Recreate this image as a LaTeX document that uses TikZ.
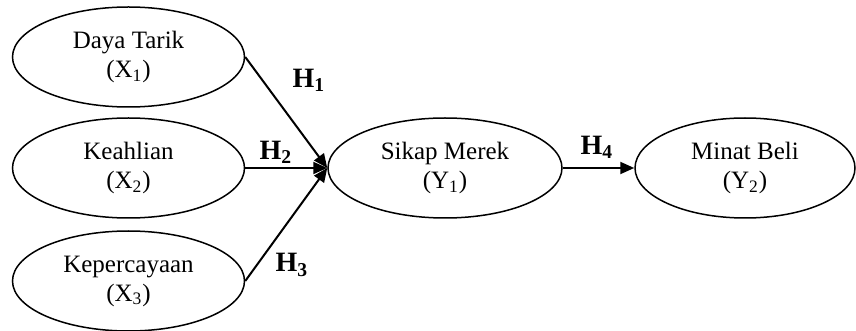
\documentclass[tikz,border=0pt]{standalone}
\usepackage{fontspec}
\setmainfont{Liberation Serif}
\usetikzlibrary{shapes.geometric,arrows.meta}
\tikzset{
  var/.style={draw,ellipse,line width=0.75pt,minimum width=116pt,minimum height=50pt,
    inner sep=0pt,align=center,font=\fontsize{12.5}{14.5}\selectfont},
  path/.style={line width=1pt,-{Triangle[length=7pt,width=6pt]}},
  hyp/.style={inner sep=0.75pt,font=\fontsize{14}{16}\selectfont\bfseries}
}
\begin{document}
\begin{tikzpicture}[x=0.5pt,y=0.5pt,yscale=-1,xscale=1]
\useasboundingbox (0,0) rectangle (856,331);

%Shape: Ellipse [X1]
\node [var] (x1) at (128.5,57) {Daya Tarik\\(X\textsubscript{1})};
%Shape: Ellipse [X2]
\node [var] (x2) at (128.5,168) {Keahlian\\(X\textsubscript{2})};
%Shape: Ellipse [X3]
\node [var] (x3) at (128.5,281) {Kepercayaan\\(X\textsubscript{3})};
%Shape: Ellipse [Y1]
\node [var,minimum width=117pt] (y1) at (445,168) {Sikap Merek\\(Y\textsubscript{1})};
%Shape: Ellipse [Y2]
\node [var,minimum width=110pt] (y2) at (745,168) {Minat Beli\\(Y\textsubscript{2})};

%Straight Lines
\draw [path] (x1.east) -- (y1.west);
\draw [path] (x2.east) -- (y1.west);
\draw [path] (x3.east) -- (y1.west);
\draw [path] (y1.east) -- (y2.west);

% Text Node
\node [hyp] (h1) at (309,80) {H\textsubscript{1}};
% Text Node
\node [hyp] (h2) at (276,152) {H\textsubscript{2}};
% Text Node
\node [hyp] (h3) at (292,265) {H\textsubscript{3}};
% Text Node
\node [hyp] (h4) at (597,147) {H\textsubscript{4}};

\end{tikzpicture}
\end{document}
